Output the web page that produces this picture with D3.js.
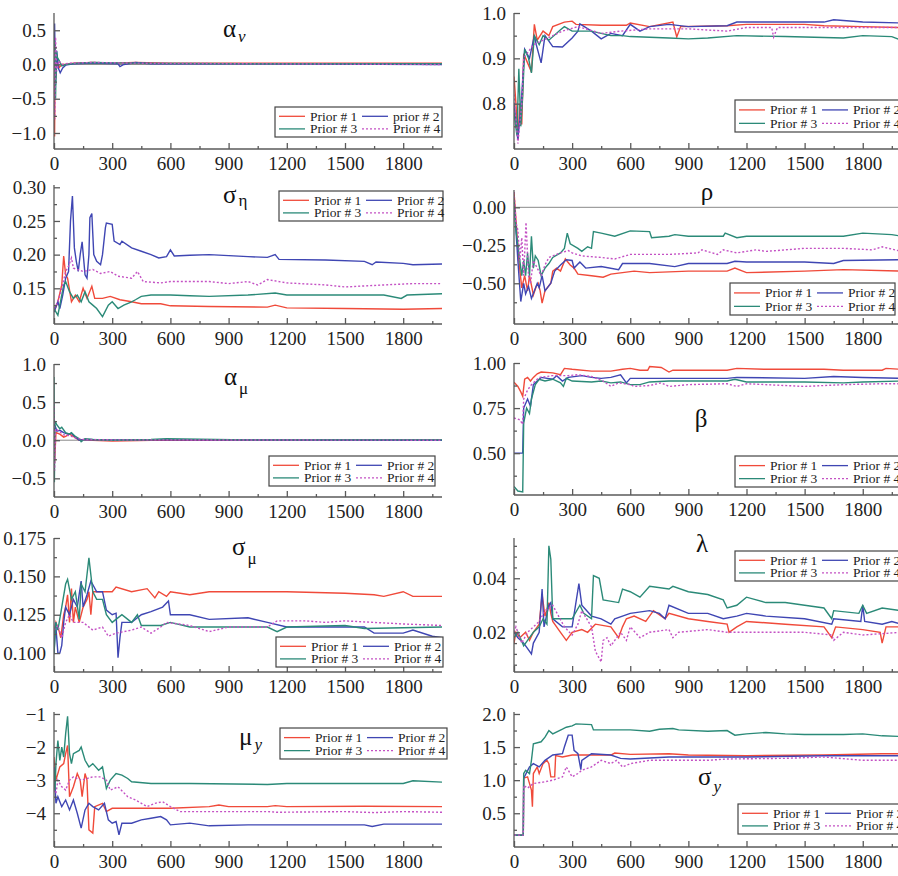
<!DOCTYPE html>
<html>
<head>
<meta charset="utf-8">
<script src="https://cdn.jsdelivr.net/npm/d3@7"></script>
<style>
  body { margin: 0; background: #fff; }
  svg { display: block; }
  svg text { font-family: "Liberation Serif", "Times New Roman", Times, "DejaVu Serif", "Noto Serif", serif; }
</style>
</head>
<body>
<svg id="chart" width="898" height="876"></svg>
<script>
// ---------- shared labels and ticks ----------
const priorNames = ["Prior # 1", "Prior # 2", "Prior # 3", "Prior # 4"];
const priorNamesFirst = ["Prior # 1", "prior # 2", "Prior # 3", "Prior # 4"];
const xTicks = [0, 300, 600, 900, 1200, 1500, 1800];
const xMinorTicks = [150, 450, 750, 1050, 1350, 1650, 1950];

// ---------- alpha_nu ----------
const alphaNuTicks = [-1.0, -0.5, 0.0, 0.5];
const alphaNuMinor = [-0.75, -0.25, 0.25];
const alphaNu1 = [[0,-0.3],[3,-1.05],[6,0.3],[10,-0.2],[15,0.1],[25,-0.05],[40,0],[60,0],[100,0.02],[200,0.03],[300,0.02],[420,0.03],[600,0.02],[1000,0.02],[1500,0.02],[2000,0.02]];
const alphaNu2 = [[0,0.1],[3,0.6],[8,-0.3],[14,0.2],[22,-0.05],[32,-0.12],[45,-0.05],[60,-0.01],[100,0.01],[200,0.02],[330,0.01],[340,-0.03],[360,0],[420,0.03],[500,0.01],[1000,0.01],[2000,0]];
const alphaNu3 = [[0,0],[4,0.35],[8,-0.5],[12,0.2],[18,0.1],[28,0.05],[40,-0.02],[60,0],[120,0.02],[200,0.03],[400,0.02],[1000,0.01],[2000,0.01]];
const alphaNu4 = [[0,0.2],[4,-0.8],[8,0.4],[14,-0.1],[25,0.05],[40,0],[80,0.02],[200,0.03],[400,0.02],[1000,0.01],[2000,0]];

// ---------- phi ----------
const phiTicks = [0.8, 0.9, 1.0];
const phiMinor = [0.75, 0.85, 0.95];
const phi1 = [[0,0.86],[10,0.8],[20,0.72],[30,0.8],[40,0.754],[50,0.91],[70,0.89],[90,0.87],[105,0.975],[120,0.94],[150,0.96],[180,0.95],[200,0.97],[260,0.98],[300,0.982],[320,0.975],[450,0.973],[580,0.973],[600,0.978],[700,0.97],[820,0.98],[840,0.947],[860,0.97],[1100,0.972],[1200,0.975],[1500,0.975],[1600,0.972],[1800,0.97],[2000,0.968]];
const phi2 = [[0,0.8],[20,0.72],[40,0.82],[55,0.92],[80,0.9],[105,0.95],[115,0.93],[140,0.89],[160,0.95],[200,0.926],[250,0.925],[300,0.945],[330,0.96],[340,0.976],[400,0.96],[450,0.943],[500,0.955],[560,0.95],[600,0.975],[650,0.96],[700,0.97],[800,0.975],[900,0.97],[1100,0.972],[1150,0.98],[1600,0.98],[1650,0.985],[1800,0.98],[2000,0.978]];
const phi3 = [[0,0.78],[15,0.73],[25,0.877],[35,0.75],[45,0.82],[55,0.92],[75,0.9],[90,0.868],[105,0.95],[130,0.93],[150,0.95],[180,0.94],[240,0.963],[260,0.97],[300,0.96],[400,0.96],[450,0.955],[500,0.95],[560,0.95],[600,0.948],[800,0.945],[900,0.943],[1000,0.945],[1150,0.95],[1400,0.948],[1700,0.945],[1800,0.95],[1950,0.948],[2000,0.94]];
const phi4 = [[0,0.82],[20,0.712],[40,0.8],[50,0.9],[100,0.93],[150,0.94],[200,0.95],[250,0.96],[330,0.97],[450,0.955],[550,0.96],[700,0.965],[900,0.965],[1100,0.96],[1200,0.968],[1330,0.968],[1340,0.947],[1360,0.968],[2000,0.968]];

// ---------- sigma_eta ----------
const sigmaEtaTicks = [0.15, 0.20, 0.25, 0.30];
const sigmaEtaMinor = [0.125, 0.175, 0.225, 0.275];
const sigmaEta1 = [[0,0.115],[20,0.13],[40,0.155],[50,0.198],[60,0.17],[70,0.165],[90,0.13],[110,0.14],[130,0.13],[150,0.15],[170,0.135],[195,0.153],[210,0.135],[250,0.135],[290,0.138],[340,0.133],[400,0.13],[450,0.127],[550,0.127],[600,0.124],[800,0.123],[1100,0.122],[1140,0.125],[1200,0.121],[1500,0.12],[1800,0.119],[2000,0.12]];
const sigmaEta2 = [[0,0.115],[20,0.13],[30,0.12],[45,0.14],[60,0.165],[75,0.175],[85,0.25],[95,0.287],[105,0.21],[115,0.19],[125,0.175],[135,0.2],[145,0.219],[160,0.17],[170,0.165],[180,0.2],[185,0.255],[195,0.261],[205,0.2],[220,0.19],[240,0.185],[250,0.2],[265,0.24],[270,0.247],[300,0.245],[310,0.22],[340,0.215],[350,0.22],[400,0.21],[450,0.205],[500,0.2],[540,0.195],[580,0.197],[600,0.207],[620,0.198],[700,0.199],[800,0.2],[1000,0.197],[1100,0.196],[1140,0.2],[1160,0.193],[1400,0.192],[1600,0.19],[1640,0.185],[1660,0.189],[1800,0.187],[1850,0.185],[2000,0.186]];
const sigmaEta3 = [[0,0.12],[20,0.11],[40,0.14],[50,0.155],[60,0.16],[80,0.145],[100,0.135],[120,0.14],[140,0.13],[160,0.145],[180,0.13],[200,0.125],[220,0.12],[250,0.108],[280,0.125],[300,0.13],[330,0.12],[360,0.125],[400,0.13],[420,0.133],[450,0.138],[500,0.14],[600,0.14],[700,0.139],[800,0.138],[1000,0.14],[1140,0.143],[1200,0.14],[1700,0.14],[1790,0.135],[1820,0.14],[2000,0.142]];
const sigmaEta4 = [[0,0.12],[20,0.13],[40,0.15],[60,0.175],[75,0.183],[90,0.195],[100,0.18],[150,0.175],[200,0.178],[240,0.172],[290,0.175],[330,0.168],[400,0.165],[430,0.175],[460,0.16],[550,0.158],[600,0.16],[800,0.16],[900,0.157],[1000,0.16],[1050,0.155],[1100,0.163],[1200,0.158],[1400,0.155],[1500,0.152],[1700,0.155],[1850,0.157],[2000,0.157]];

// ---------- rho ----------
const rhoTicks = [-0.50, -0.25, 0.00];
const rhoMinor = [-0.625, -0.375, -0.125];
const rho1 = [[0,0.1],[25,-0.35],[40,-0.53],[55,-0.45],[70,-0.55],[80,-0.45],[100,-0.577],[115,-0.52],[125,-0.5],[135,-0.55],[145,-0.63],[160,-0.55],[190,-0.5],[200,-0.42],[220,-0.4],[240,-0.42],[265,-0.34],[290,-0.38],[310,-0.4],[330,-0.44],[400,-0.45],[460,-0.46],[500,-0.44],[560,-0.43],[620,-0.42],[700,-0.43],[900,-0.42],[1100,-0.42],[1140,-0.4],[1200,-0.43],[1500,-0.42],[1700,-0.41],[2000,-0.42]];
const rho2 = [[0,0.05],[20,-0.35],[35,-0.62],[50,-0.5],[60,-0.57],[75,-0.52],[90,-0.6],[105,-0.55],[120,-0.5],[130,-0.53],[145,-0.45],[160,-0.55],[190,-0.5],[210,-0.42],[240,-0.38],[270,-0.345],[300,-0.35],[310,-0.4],[340,-0.36],[370,-0.4],[450,-0.39],[540,-0.41],[560,-0.37],[700,-0.37],[830,-0.39],[900,-0.37],[1100,-0.37],[1140,-0.355],[1200,-0.36],[1500,-0.36],[1650,-0.37],[1700,-0.35],[2000,-0.345]];
const rho3 = [[0,0.05],[10,-0.15],[25,-0.3],[40,-0.45],[50,-0.35],[60,-0.45],[70,-0.3],[80,-0.45],[90,-0.19],[100,-0.4],[110,-0.32],[125,-0.35],[140,-0.45],[160,-0.4],[180,-0.37],[200,-0.33],[240,-0.3],[260,-0.27],[275,-0.17],[290,-0.24],[330,-0.27],[350,-0.29],[380,-0.26],[400,-0.27],[410,-0.16],[450,-0.17],[520,-0.19],[600,-0.155],[700,-0.16],[710,-0.2],[800,-0.19],[830,-0.18],[900,-0.19],[1080,-0.19],[1090,-0.17],[1150,-0.2],[1200,-0.19],[1700,-0.19],[1800,-0.17],[1950,-0.18],[2000,-0.19]];
const rho4 = [[0,0.1],[10,-0.1],[20,-0.15],[30,-0.35],[40,-0.2],[50,-0.45],[62,-0.1],[75,-0.45],[85,-0.5],[100,-0.35],[120,-0.4],[140,-0.45],[160,-0.38],[180,-0.33],[200,-0.32],[240,-0.3],[280,-0.285],[300,-0.3],[350,-0.32],[450,-0.33],[520,-0.34],[600,-0.31],[800,-0.31],[950,-0.3],[970,-0.28],[1050,-0.31],[1080,-0.28],[1150,-0.3],[1250,-0.28],[1300,-0.29],[1500,-0.27],[1700,-0.27],[1850,-0.28],[1900,-0.26],[2000,-0.29]];

// ---------- alpha_mu ----------
const alphaMuTicks = [-0.5, 0.0, 0.5, 1.0];
const alphaMuMinor = [-0.25, 0.25, 0.75];
const alphaMu1 = [[0,0.2],[3,-0.3],[10,0.1],[30,0.08],[50,0.04],[60,0.05],[80,0.08],[100,0.05],[130,0],[160,0.01],[200,0],[300,-0.01],[500,0],[2000,0]];
const alphaMu2 = [[0,0.1],[4,0.2],[15,0.12],[30,0.13],[50,0.1],[70,0.08],[90,0.09],[110,0.04],[130,0],[160,0.01],[300,0.005],[2000,0]];
const alphaMu3 = [[0,0.83],[2,-0.55],[5,0.25],[15,0.2],[30,0.15],[40,0.17],[60,0.1],[80,0.08],[90,0.1],[110,0.05],[130,0.02],[140,-0.02],[160,0.02],[200,0.01],[300,0],[500,0.01],[580,0.02],[1000,0.005],[2000,0.005]];
const alphaMu4 = [[0,0.5],[3,-0.4],[8,0.15],[25,0.12],[50,0.07],[80,0.06],[110,0.03],[150,0.01],[300,0.005],[2000,0]];

// ---------- beta ----------
const betaTicks = [0.50, 0.75, 1.00];
const betaMinor = [0.375, 0.625, 0.875];
const beta1 = [[0,0.893],[20,0.87],[35,0.84],[45,0.815],[55,0.91],[70,0.92],[85,0.9],[100,0.92],[120,0.94],[140,0.95],[200,0.945],[240,0.935],[260,0.97],[300,0.965],[400,0.955],[500,0.955],[560,0.965],[600,0.97],[650,0.96],[690,0.96],[700,0.98],[760,0.975],[800,0.95],[820,0.96],[1100,0.96],[1150,0.97],[1300,0.965],[1600,0.965],[1700,0.96],[1900,0.96],[1920,0.97],[2000,0.965]];
const beta2 = [[0,0.5],[45,0.5],[50,0.75],[70,0.8],[85,0.76],[100,0.88],[120,0.9],[140,0.92],[200,0.91],[220,0.93],[250,0.9],[280,0.92],[350,0.93],[400,0.92],[450,0.915],[500,0.92],[550,0.935],[580,0.89],[600,0.915],[1100,0.915],[1150,0.92],[1500,0.915],[1650,0.925],[1800,0.92],[2000,0.915]];
const beta3 = [[0,0.315],[20,0.29],[45,0.285],[50,0.667],[65,0.75],[80,0.72],[90,0.8],[110,0.88],[130,0.91],[160,0.9],[200,0.91],[240,0.89],[255,0.87],[270,0.915],[300,0.9],[400,0.895],[450,0.9],[500,0.89],[550,0.895],[600,0.88],[650,0.88],[700,0.895],[800,0.9],[1100,0.9],[1140,0.91],[1200,0.895],[1500,0.895],[1700,0.89],[1800,0.895],[2000,0.9]];
const beta4 = [[0,0.695],[30,0.685],[45,0.66],[50,0.8],[70,0.85],[90,0.88],[130,0.92],[200,0.93],[280,0.93],[330,0.935],[400,0.925],[460,0.9],[500,0.87],[540,0.89],[600,0.88],[620,0.87],[700,0.875],[760,0.89],[800,0.87],[900,0.88],[1100,0.885],[1150,0.87],[1200,0.885],[1400,0.875],[1500,0.87],[1700,0.88],[1900,0.885],[2000,0.885]];

// ---------- sigma_mu ----------
const sigmaMuTicks = [0.100, 0.125, 0.150, 0.175];
const sigmaMuMinor = [0.1125, 0.1375, 0.1625];
const sigmaMu1 = [[0,0.113],[10,0.12],[25,0.115],[35,0.11],[50,0.125],[60,0.13],[70,0.138],[80,0.12],[90,0.142],[100,0.12],[110,0.13],[130,0.12],[150,0.13],[170,0.135],[180,0.14],[190,0.125],[200,0.14],[260,0.14],[300,0.14],[320,0.143],[400,0.14],[480,0.142],[520,0.136],[540,0.14],[580,0.137],[600,0.14],[700,0.138],[800,0.14],[1200,0.14],[1500,0.139],[1650,0.138],[1700,0.137],[1800,0.14],[1850,0.137],[2000,0.137]];
const sigmaMu2 = [[0,0.1],[8,0.12],[20,0.1],[30,0.1],[40,0.105],[50,0.12],[60,0.13],[80,0.125],[100,0.135],[120,0.13],[140,0.147],[150,0.13],[170,0.138],[190,0.147],[220,0.14],[250,0.14],[270,0.128],[300,0.125],[320,0.126],[330,0.097],[340,0.11],[350,0.12],[400,0.12],[450,0.125],[500,0.127],[560,0.13],[590,0.134],[600,0.125],[700,0.125],[800,0.122],[1000,0.123],[1100,0.12],[1200,0.117],[1600,0.117],[1650,0.113],[1800,0.113],[1850,0.115],[1950,0.111],[2000,0.11]];
const sigmaMu3 = [[0,0.1],[10,0.12],[20,0.115],[40,0.13],[60,0.145],[70,0.148],[90,0.135],[110,0.14],[130,0.122],[140,0.145],[160,0.14],[180,0.162],[200,0.14],[220,0.135],[250,0.135],[270,0.125],[300,0.12],[350,0.125],[400,0.12],[430,0.125],[450,0.118],[550,0.118],[600,0.12],[700,0.117],[1100,0.117],[1150,0.114],[1200,0.117],[1500,0.118],[1600,0.116],[2000,0.117]];
const sigmaMu4 = [[0,0.115],[20,0.118],[40,0.11],[60,0.12],[80,0.125],[100,0.12],[150,0.12],[200,0.115],[250,0.117],[280,0.111],[320,0.113],[400,0.115],[450,0.117],[500,0.113],[550,0.117],[580,0.12],[700,0.118],[800,0.114],[900,0.117],[1100,0.117],[1150,0.121],[1300,0.121],[1400,0.12],[1500,0.121],[1650,0.12],[1800,0.119],[2000,0.118]];

// ---------- lambda ----------
const lambdaTicks = [0.02, 0.04];
const lambdaMinor = [0.008, 0.012, 0.016, 0.024, 0.028, 0.032, 0.036, 0.044, 0.048, 0.052];
const lambda1 = [[0,0.016],[10,0.02],[30,0.018],[60,0.02],[80,0.017],[100,0.02],[130,0.023],[145,0.034],[160,0.026],[180,0.031],[190,0.027],[200,0.024],[240,0.02],[270,0.017],[300,0.02],[350,0.021],[380,0.02],[420,0.023],[500,0.022],[540,0.018],[560,0.022],[580,0.025],[620,0.026],[680,0.024],[720,0.028],[780,0.025],[800,0.027],[900,0.025],[1000,0.024],[1100,0.023],[1110,0.02],[1150,0.022],[1200,0.024],[1400,0.023],[1600,0.022],[1640,0.018],[1660,0.022],[1800,0.021],[1890,0.02],[1900,0.016],[1920,0.022],[2000,0.022]];
const lambda2 = [[0,0.02],[20,0.018],[50,0.016],[90,0.012],[100,0.016],[130,0.02],[145,0.036],[155,0.022],[180,0.03],[190,0.031],[200,0.025],[250,0.022],[300,0.022],[335,0.038],[350,0.03],[400,0.026],[450,0.025],[500,0.023],[520,0.025],[600,0.027],[700,0.028],[750,0.027],[780,0.025],[800,0.03],[900,0.027],[1000,0.027],[1080,0.025],[1150,0.026],[1200,0.027],[1300,0.026],[1500,0.025],[1640,0.023],[1650,0.025],[1790,0.024],[1800,0.03],[1810,0.024],[1900,0.023],[1950,0.024],[2000,0.023]];
const lambda3 = [[0,0.018],[20,0.02],[50,0.015],[80,0.018],[100,0.02],[130,0.022],[150,0.025],[170,0.023],[180,0.052],[190,0.047],[200,0.025],[300,0.025],[340,0.03],[360,0.027],[400,0.025],[410,0.041],[440,0.04],[460,0.032],[540,0.031],[560,0.036],[600,0.035],[650,0.033],[700,0.037],[800,0.036],[820,0.037],[900,0.035],[1000,0.034],[1080,0.032],[1100,0.029],[1150,0.03],[1200,0.033],[1300,0.031],[1400,0.031],[1500,0.03],[1600,0.029],[1640,0.025],[1650,0.028],[1780,0.027],[1800,0.03],[1820,0.027],[1900,0.029],[2000,0.028]];
const lambda4 = [[0,0.02],[10,0.022],[40,0.016],[70,0.02],[100,0.022],[130,0.024],[160,0.028],[200,0.03],[230,0.026],[260,0.022],[300,0.019],[330,0.023],[350,0.028],[400,0.022],[420,0.013],[450,0.009],[460,0.017],[480,0.018],[500,0.015],[550,0.02],[580,0.017],[600,0.022],[650,0.018],[700,0.02],[800,0.021],[820,0.018],[850,0.02],[1000,0.021],[1100,0.02],[1300,0.02],[1500,0.02],[1640,0.019],[1650,0.017],[1700,0.02],[1800,0.019],[2000,0.02]];

// ---------- mu_y ----------
const muYTicks = [-4, -3, -2, -1];
const muYMinor = [-4.5, -3.5, -2.5, -1.5];
const muY1 = [[0,-2.3],[10,-3.0],[30,-2.6],[50,-2.5],[60,-2.2],[70,-1.95],[80,-3.5],[100,-3.2],[120,-2.8],[135,-3.0],[145,-3.5],[160,-2.8],[170,-3.0],[180,-4.5],[200,-4.6],[210,-3.8],[250,-3.7],[270,-3.95],[300,-3.85],[600,-3.85],[800,-3.8],[850,-3.75],[900,-3.8],[1100,-3.8],[1140,-3.77],[1200,-3.8],[1600,-3.79],[2000,-3.8]];
const muY2 = [[0,-2.6],[10,-3.7],[20,-3.5],[40,-3.8],[60,-3.6],[80,-3.9],[100,-3.6],[120,-4.0],[140,-4.45],[160,-3.9],[180,-3.7],[200,-3.8],[230,-3.9],[260,-3.7],[280,-4.2],[300,-4.3],[320,-4.25],[335,-4.65],[350,-4.3],[400,-4.3],[450,-4.2],[500,-4.15],[550,-4.1],[580,-4.2],[600,-4.35],[700,-4.3],[800,-4.38],[1000,-4.35],[1600,-4.35],[1640,-4.4],[1700,-4.33],[2000,-4.33]];
const muY3 = [[0,-2.7],[5,-3.3],[10,-2.5],[20,-1.8],[30,-2.4],[40,-2.0],[50,-2.3],[60,-1.6],[70,-1.07],[80,-2.2],[90,-2.5],[100,-2.2],[130,-2.1],[140,-2.0],[160,-2.4],[180,-2.6],[200,-2.5],[230,-2.7],[250,-2.6],[270,-3.25],[290,-3.0],[320,-2.8],[350,-2.85],[380,-2.95],[400,-3.05],[500,-3.1],[700,-3.1],[1100,-3.13],[1200,-3.1],[1800,-3.1],[1850,-3.02],[2000,-3.06]];
const muY4 = [[0,-3.3],[10,-3.4],[20,-3.0],[40,-3.2],[60,-3.3],[80,-3.0],[100,-2.9],[140,-3.0],[200,-2.9],[240,-2.9],[270,-3.0],[290,-3.3],[330,-3.2],[380,-3.5],[420,-3.6],[480,-3.8],[520,-3.7],[560,-3.65],[600,-3.8],[650,-3.95],[1100,-3.95],[1150,-3.97],[1500,-3.95],[1650,-3.98],[1800,-3.95],[2000,-3.97]];

// ---------- sigma_y ----------
const sigmaYTicks = [0.5, 1.0, 1.5, 2.0];
const sigmaYMinor = [0.25, 0.75, 1.25, 1.75];
const sigmaY1 = [[0,0.17],[48,0.17],[50,1.03],[70,1.05],[90,0.85],[95,0.6],[100,1.1],[120,1.2],[130,1.1],[150,1.25],[170,1.3],[180,1.25],[190,1.05],[210,1.05],[215,1.37],[250,1.35],[300,1.38],[500,1.38],[520,1.41],[600,1.39],[800,1.4],[900,1.38],[1200,1.37],[1600,1.38],[1900,1.4],[2000,1.4]];
const sigmaY2 = [[0,0.17],[48,0.17],[50,1.03],[80,1.2],[100,1.25],[130,1.2],[160,1.3],[200,1.38],[250,1.4],[260,1.5],[280,1.68],[300,1.68],[310,1.45],[330,1.4],[345,1.16],[350,1.3],[400,1.4],[500,1.38],[550,1.33],[600,1.32],[800,1.35],[1200,1.35],[1600,1.37],[2000,1.37]];
const sigmaY3 = [[0,0.17],[48,0.17],[50,1.1],[60,1.15],[80,1.1],[90,1.3],[100,1.55],[140,1.58],[160,1.65],[180,1.75],[200,1.7],[250,1.77],[270,1.8],[300,1.82],[320,1.85],[400,1.84],[410,1.76],[600,1.76],[700,1.74],[750,1.77],[820,1.78],[850,1.76],[1000,1.74],[1100,1.75],[1140,1.68],[1200,1.7],[1300,1.72],[1400,1.7],[1500,1.69],[1700,1.69],[1800,1.7],[1900,1.67],[2000,1.66]];
const sigmaY4 = [[0,0.17],[48,0.17],[50,0.92],[70,0.88],[100,0.95],[150,0.97],[200,1.0],[250,1.05],[270,1.2],[300,1.05],[330,1.1],[350,1.15],[400,1.2],[450,1.3],[500,1.25],[530,1.3],[560,1.2],[600,1.25],[700,1.3],[1000,1.3],[1100,1.32],[1400,1.33],[1600,1.35],[1800,1.3],[2000,1.3]];

// ---------- styling ----------
const seriesColors = ["#f04a3a", "#3f46b3", "#2b8a78", "#c451c4"];
const seriesDash = [null, null, null, "2,2"];
const serif = '"Liberation Serif", "Times New Roman", Times, "DejaVu Serif", "Noto Serif", serif';
const axisColor = "#5a5a5a";

// Column x extents (pixels)
const colX = [[54, 442], [514, 901.5]];

const panels = [
  { col: 0, top: 13, bottom: 149, domain: [-1.234, 0.752], ticks: alphaNuTicks, minor: alphaNuMinor, fmt: ".1f",
    data: [alphaNu1, alphaNu2, alphaNu3, alphaNu4], zero: true, names: priorNamesFirst,
    title: { main: "α", sub: "ν", italic: true, x: 223, y: 37, dy: 5 },
    legend: { x: 275, y: 107, w: 167, h: 30 } },
  { col: 1, top: 13, bottom: 149, domain: [0.70, 1.0], ticks: phiTicks, minor: phiMinor, fmt: ".1f",
    data: [phi1, phi2, phi3, phi4], names: priorNames,
    legend: { x: 735, y: 100, w: 168, h: 32 } },
  { col: 0, top: 185, bottom: 324, domain: [0.097, 0.3034], ticks: sigmaEtaTicks, minor: sigmaEtaMinor, fmt: ".2f",
    data: [sigmaEta1, sigmaEta2, sigmaEta3, sigmaEta4], names: priorNames,
    title: { main: "σ", sub: "η", italic: false, x: 223, y: 203, dy: 3 },
    legend: { x: 279, y: 191, w: 164, h: 30 } },
  { col: 1, top: 190, bottom: 324, domain: [-0.768, 0.114], ticks: rhoTicks, minor: rhoMinor, fmt: ".2f",
    data: [rho1, rho2, rho3, rho4], zero: true, names: priorNames,
    title: { main: "ρ", anchor: "middle", x: 707, y: 200 },
    legend: { x: 730, y: 283, w: 165, h: 32 } },
  { col: 0, top: 364, bottom: 497, domain: [-0.745, 1.0], ticks: alphaMuTicks, minor: alphaMuMinor, fmt: ".1f",
    data: [alphaMu1, alphaMu2, alphaMu3, alphaMu4], zero: true, names: priorNames,
    title: { main: "α", sub: "μ", italic: false, x: 224, y: 385, dy: 9 },
    legend: { x: 269, y: 456, w: 166, h: 30 } },
  { col: 1, top: 363, bottom: 495, domain: [0.268, 1.0], ticks: betaTicks, minor: betaMinor, fmt: ".2f",
    data: [beta1, beta2, beta3, beta4], names: priorNames,
    title: { main: "β", anchor: "middle", x: 701, y: 427 },
    legend: { x: 735, y: 456, w: 168, h: 31 } },
  { col: 0, top: 538, bottom: 672, domain: [0.0877, 0.175], ticks: sigmaMuTicks, minor: sigmaMuMinor, fmt: ".3f",
    data: [sigmaMu1, sigmaMu2, sigmaMu3, sigmaMu4], names: priorNames,
    title: { main: "σ", sub: "μ", italic: false, x: 232, y: 555, dy: 9 },
    legend: { x: 276, y: 637, w: 167, h: 30 } },
  { col: 1, top: 538, bottom: 672, domain: [0.0053, 0.0549], ticks: lambdaTicks, minor: lambdaMinor, fmt: ".2f",
    data: [lambda1, lambda2, lambda3, lambda4], names: priorNames,
    title: { main: "λ", anchor: "middle", x: 702, y: 552 },
    legend: { x: 735, y: 551, w: 168, h: 30 } },
  { col: 0, top: 712, bottom: 847, domain: [-5.02, -0.94], ticks: muYTicks, minor: muYMinor, fmt: "d",
    data: [muY1, muY2, muY3, muY4], names: priorNames,
    title: { main: "μ", sub: "y", italic: true, x: 239, y: 745, dy: 5 },
    legend: { x: 280, y: 728, w: 167, h: 31 } },
  { col: 1, top: 712, bottom: 847, domain: [-0.01, 2.03], ticks: sigmaYTicks, minor: sigmaYMinor, fmt: ".1f",
    data: [sigmaY1, sigmaY2, sigmaY3, sigmaY4], names: priorNames,
    title: { main: "σ", sub: "y", italic: true, x: 698, y: 785, dy: 7 },
    legend: { x: 738, y: 804, w: 168, h: 30 } }
];

const svg = d3.select("#chart");
const defs = svg.append("defs");

panels.forEach((p, i) => {
  const [x0, x1] = colX[p.col];
  const x = d3.scaleLinear().domain([0, 2000]).range([x0, x1]);
  const y = d3.scaleLinear().domain(p.domain).range([p.bottom, p.top]);
  const g = svg.append("g");

  // clip region for the traces
  defs.append("clipPath").attr("id", "clip" + i)
    .append("rect").attr("x", x0).attr("y", p.top - 2)
    .attr("width", x1 - x0).attr("height", p.bottom - p.top + 2);

  // zero reference line
  if (p.zero) {
    g.append("line")
      .attr("x1", x0).attr("x2", x1)
      .attr("y1", y(0)).attr("y2", y(0))
      .attr("stroke", "#8a8a8a").attr("stroke-width", 1);
  }

  // traces
  const line = d3.line().x(d => x(d[0])).y(d => y(d[1]));
  const traces = g.append("g").attr("clip-path", `url(#clip${i})`);
  p.data.forEach((s, k) => {
    traces.append("path")
      .datum(s)
      .attr("d", line)
      .attr("fill", "none")
      .attr("stroke", seriesColors[k])
      .attr("stroke-width", 1.4)
      .attr("stroke-dasharray", seriesDash[k]);
  });

  // x axis (ticks point inward)
  const xAxis = d3.axisBottom(x).tickValues(xTicks).tickSize(-6).tickPadding(8).tickFormat(d3.format("d"));
  const xg = g.append("g").attr("transform", `translate(0,${p.bottom})`).call(xAxis);
  xg.attr("font-family", null);
  xg.select(".domain").attr("d", `M${x0},0H${x1}`);
  g.append("g").attr("transform", `translate(0,${p.bottom})`)
    .call(d3.axisBottom(x).tickValues(xMinorTicks).tickSize(-3).tickFormat(""))
    .call(a => a.selectAll("text").remove())
    .select(".domain").remove();

  // y axis (ticks point inward)
  const yAxis = d3.axisLeft(y).tickValues(p.ticks).tickSize(-6).tickPadding(8).tickFormat(d3.format(p.fmt));
  const yg = g.append("g").attr("transform", `translate(${x0},0)`).call(yAxis);
  yg.attr("font-family", null);
  yg.select(".domain").attr("d", `M0,${p.top}V${p.bottom}`);
  g.append("g").attr("transform", `translate(${x0},0)`)
    .call(d3.axisLeft(y).tickValues(p.minor).tickSize(-3).tickFormat(""))
    .call(a => a.selectAll("text").remove())
    .select(".domain").remove();

  g.selectAll(".domain, .tick line").attr("stroke", axisColor).attr("stroke-width", 1.3);
  g.selectAll(".tick text")
    .attr("fill", "#222")
    .style("font-family", serif)
    .style("font-size", "19px");

  // panel title
  if (p.title) {
    const t = g.append("text")
      .attr("x", p.title.x).attr("y", p.title.y)
      .attr("text-anchor", p.title.anchor || "start")
      .attr("fill", "#111")
      .style("font-family", serif)
      .style("font-size", "25px")
      .text(p.title.main);
    if (p.title.sub) {
      t.append("tspan")
        .attr("dx", 2).attr("dy", p.title.dy)
        .style("font-size", "17px")
        .style("font-style", p.title.italic ? "italic" : "normal")
        .text(p.title.sub);
    }
  }

  // legend: two columns, two rows
  const L = p.legend;
  const lg = g.append("g").attr("transform", `translate(${L.x},${L.y})`);
  lg.append("rect").attr("width", L.w).attr("height", L.h)
    .attr("fill", "#fff").attr("stroke", "#444").attr("stroke-width", 1.2);
  p.names.forEach((name, k) => {
    const cx = (k % 2) * 83;
    const cy = k < 2 ? L.h * 0.31 : L.h * 0.73;
    lg.append("line")
      .attr("x1", cx + 4).attr("x2", cx + 30)
      .attr("y1", cy).attr("y2", cy)
      .attr("stroke", seriesColors[k]).attr("stroke-width", 1.3)
      .attr("stroke-dasharray", seriesDash[k]);
    lg.append("text")
      .attr("x", cx + 35).attr("y", cy + 4.5)
      .attr("fill", "#222")
      .style("font-family", serif)
      .style("font-size", "13.5px")
      .text(name);
  });
});
</script>
</body>
</html>
